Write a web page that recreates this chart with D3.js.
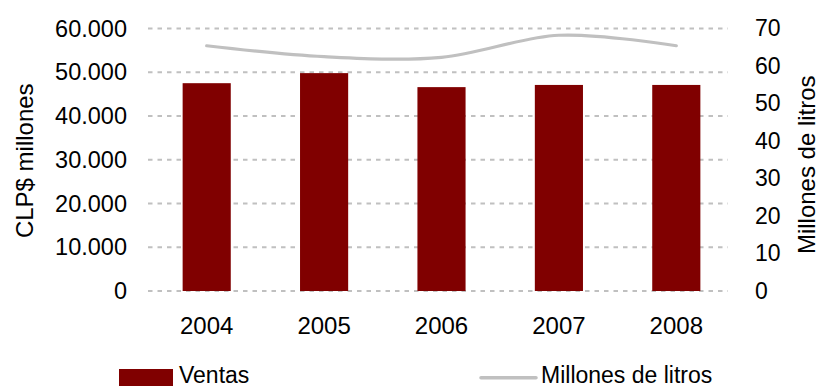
<!DOCTYPE html>
<html>
<head>
<meta charset="utf-8">
<script src="https://cdn.jsdelivr.net/npm/d3@7"></script>
<style>
  html, body { margin: 0; padding: 0; background: #fff; }
  svg { display: block; font-family: "Liberation Sans", Arial, sans-serif; }
</style>
</head>
<body>
<svg id="chart" width="819" height="388"></svg>
<script>
// Annual sales (CLP$ millions, bars) and volume (million litres, line)
const years = ["2004", "2005", "2006", "2007", "2008"];
const ventas = [47500, 49800, 46600, 47100, 47100];
const litros = [65.4, 62.5, 62.3, 68.2, 65.4];
const leftTicks = [0, 10000, 20000, 30000, 40000, 50000, 60000];
const rightTicks = [0, 10, 20, 30, 40, 50, 60, 70];
const seriesNames = ["Ventas", "Millones de litros"];
const axisTitles = ["CLP$ millones", "Millones de litros"];

const barColor = "#800000";
const lineColor = "#c0c0c0";
const gridColor = "#c0c0c0";

const svg = d3.select("#chart");
const plot = { left: 148, right: 735, top: 28.5, bottom: 291 };

const x = d3.scaleBand()
  .domain(years)
  .range([plot.left, plot.right])
  .paddingInner(0.59)
  .paddingOuter(0.295);

const yL = d3.scaleLinear().domain([0, 60000]).range([plot.bottom, plot.top]);
const yR = d3.scaleLinear().domain([0, 70]).range([plot.bottom, plot.top]);

const fmt = d3.formatLocale({ decimal: ",", thousands: ".", grouping: [3], currency: ["$", ""] }).format(",.0f");

// dashed horizontal gridlines
svg.append("g")
  .selectAll("line")
  .data(leftTicks)
  .join("line")
  .attr("x1", plot.left)
  .attr("x2", 728)
  .attr("y1", d => yL(d))
  .attr("y2", d => yL(d))
  .attr("stroke", gridColor)
  .attr("stroke-width", 2)
  .attr("stroke-dasharray", "4.5,5");

// bars
svg.append("g")
  .selectAll("rect")
  .data(years.map((y, i) => ({ year: y, v: ventas[i] })))
  .join("rect")
  .attr("x", d => x(d.year))
  .attr("width", x.bandwidth())
  .attr("y", d => yL(d.v))
  .attr("height", d => yL(0) - yL(d.v))
  .attr("fill", barColor);

// smoothed volume line
const line = d3.line()
  .x((d, i) => x(years[i]) + x.bandwidth() / 2)
  .y(d => yR(d))
  .curve(d3.curveCardinal.tension(0));

svg.append("path")
  .datum(litros)
  .attr("d", line)
  .attr("fill", "none")
  .attr("stroke", lineColor)
  .attr("stroke-width", 3.2)
  .attr("stroke-linecap", "round");

// left axis
const leftAxis = d3.axisLeft(yL).tickValues(leftTicks).tickFormat(fmt).tickSize(0).tickPadding(0);
const gL = svg.append("g").attr("transform", "translate(127,0)").call(leftAxis);
gL.select(".domain").remove();
gL.selectAll("text").attr("font-size", 23.5).attr("fill", "#000").attr("font-family", "Liberation Sans, Arial, sans-serif");

// right axis
const rightAxis = d3.axisRight(yR).tickValues(rightTicks).tickSize(0).tickPadding(0);
const gR = svg.append("g").attr("transform", "translate(755,0)").call(rightAxis);
gR.select(".domain").remove();
gR.selectAll("text").attr("font-size", 23).attr("fill", "#000").attr("font-family", "Liberation Sans, Arial, sans-serif");

// category axis
const bottomAxis = d3.axisBottom(x).tickSize(0).tickPadding(0);
const gB = svg.append("g").attr("transform", "translate(0,317)").call(bottomAxis);
gB.select(".domain").remove();
gB.selectAll("text").attr("font-size", 24).attr("fill", "#000").attr("dy", "0.71em").attr("font-family", "Liberation Sans, Arial, sans-serif");

// axis titles
svg.append("text")
  .attr("transform", `translate(33,${(plot.top + plot.bottom) / 2 + 1}) rotate(-90)`)
  .attr("text-anchor", "middle")
  .attr("font-size", 24)
  .attr("fill", "#000")
  .text(axisTitles[0]);

svg.append("text")
  .attr("transform", `translate(815,${(plot.top + plot.bottom) / 2 + 5}) rotate(-90)`)
  .attr("text-anchor", "middle")
  .attr("font-size", 24)
  .attr("fill", "#000")
  .text(axisTitles[1]);

// legend
const legend = svg.append("g");
legend.append("rect")
  .attr("x", 119).attr("y", 369).attr("width", 54).attr("height", 17)
  .attr("fill", barColor);
legend.append("text")
  .attr("x", 179).attr("y", 383)
  .attr("font-size", 23).attr("fill", "#000")
  .text(seriesNames[0]);
legend.append("line")
  .attr("x1", 481).attr("x2", 536).attr("y1", 377.7).attr("y2", 377.7)
  .attr("stroke", lineColor).attr("stroke-width", 3.5).attr("stroke-linecap", "round");
legend.append("text")
  .attr("x", 541).attr("y", 383)
  .attr("font-size", 23).attr("fill", "#000")
  .text(seriesNames[1]);
</script>
</body>
</html>
